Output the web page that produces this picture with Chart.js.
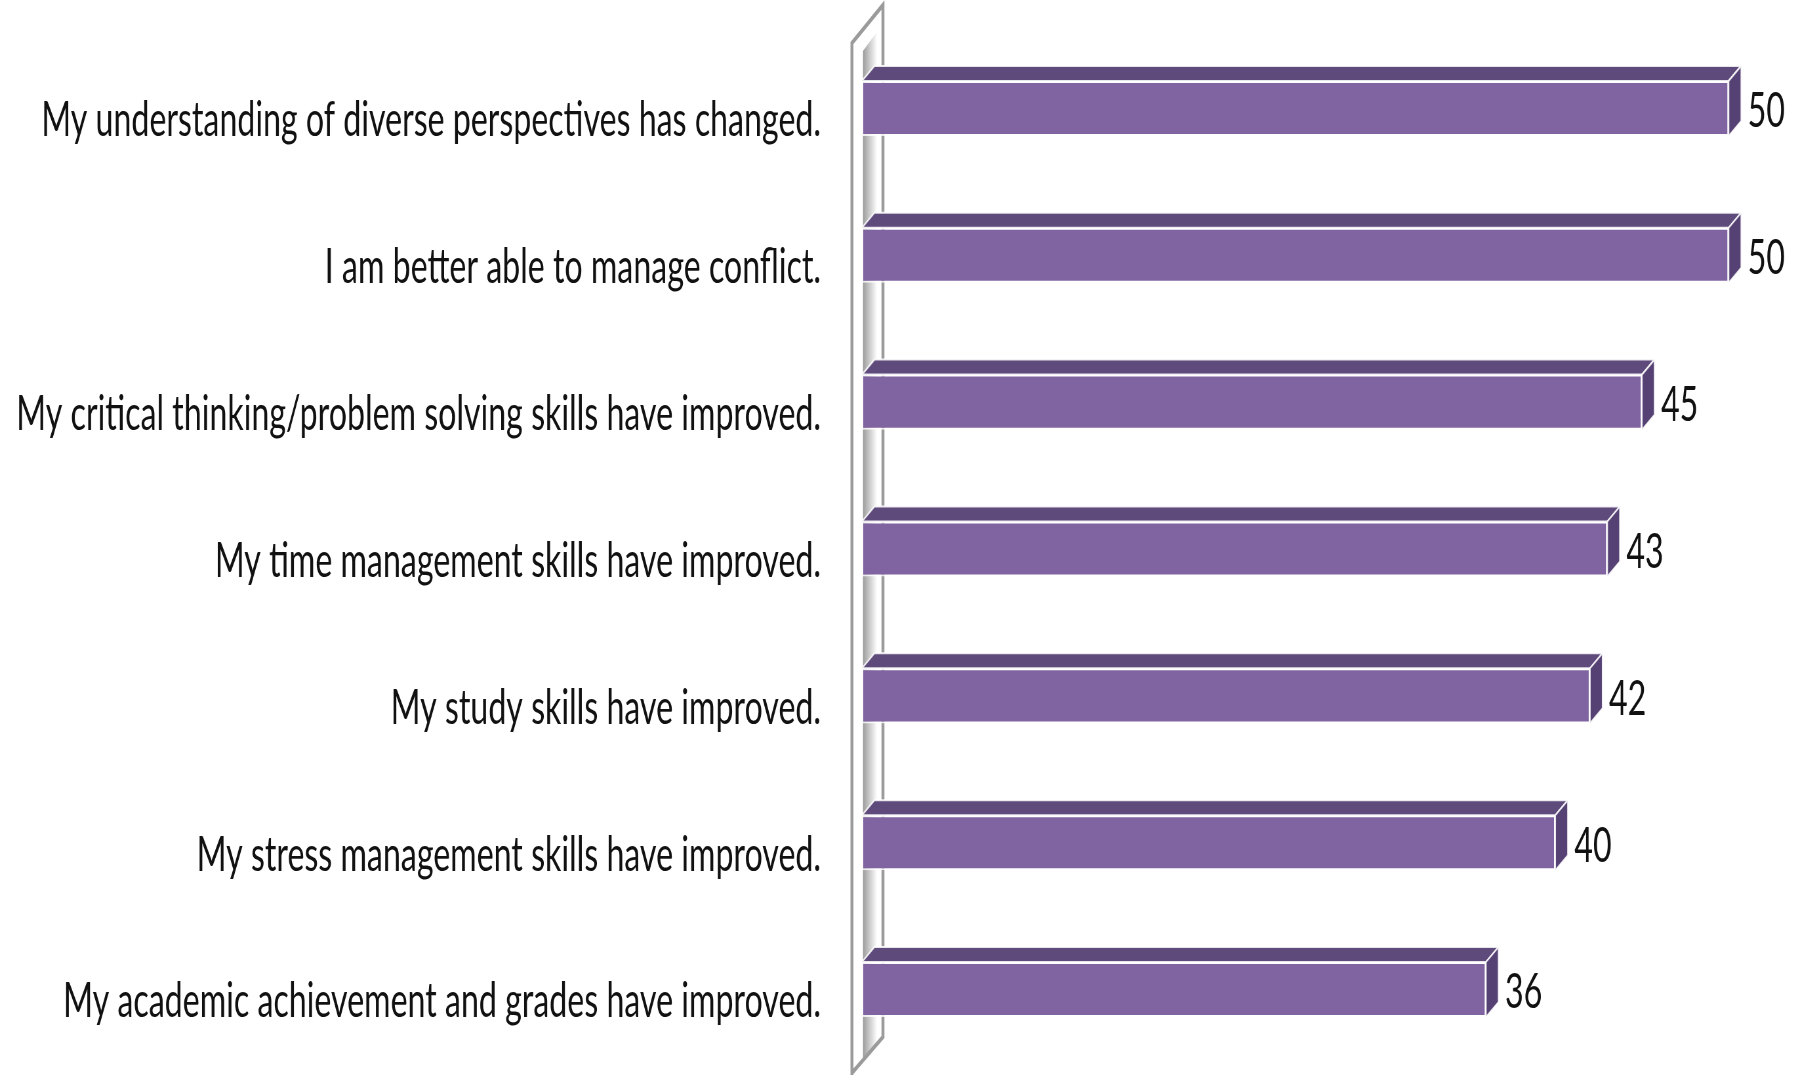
<!DOCTYPE html>
<html>
<head>
<meta charset="utf-8">
<script src="https://cdn.jsdelivr.net/npm/chart.js@4.4.0/dist/chart.umd.min.js"></script>
<style>
  html, body { margin: 0; padding: 0; background: #fff; overflow: hidden; }
  canvas { display: block; }
</style>
</head>
<body>
<canvas id="chart"></canvas>
<script>
const statements = [
  "My understanding of diverse perspectives has changed.",
  "I am better able to manage conflict.",
  "My critical thinking/problem solving skills have improved.",
  "My time management skills have improved.",
  "My study skills have improved.",
  "My stress management skills have improved.",
  "My academic achievement and grades have improved."
];
const responses = [50, 50, 45, 43, 42, 40, 36];
const axisMin = 0;
const axisMax = 54;

// the original picture is squeezed sideways (tall narrow text),
// so draw on a wider canvas and let css squeeze it back
const squeeze = 0.656;
const pageWidth = 1798;
const pageHeight = 1075;

const canvas = document.getElementById("chart");
canvas.width = Math.round(pageWidth / squeeze);
canvas.height = pageHeight;
canvas.style.width = pageWidth + "px";
canvas.style.height = pageHeight + "px";

const toX = (px) => px / squeeze; // screen px -> canvas px (horizontal only)
const font = { family: "Lato", size: 49 };
const depthX = toX(12.5);
const depthY = 15;

const wallPlugin = {
  id: "wall",
  beforeDatasetsDraw(chart) {
    const ctx = chart.ctx;
    const { left, top, bottom } = chart.chartArea;
    const outer = left - toX(10);
    const back = left + toX(21);

    ctx.save();
    // shaded inside face of the wall
    const grad = ctx.createLinearGradient(left + toX(1), 0, left + toX(15), 0);
    grad.addColorStop(0, "#9c9c9c");
    grad.addColorStop(1, "#ffffff");
    ctx.fillStyle = grad;
    ctx.beginPath();
    ctx.moveTo(left + toX(1), top + 16);
    ctx.lineTo(left + toX(17), top - 6);
    ctx.lineTo(left + toX(17), bottom - 24);
    ctx.lineTo(left + toX(1), bottom - 2);
    ctx.closePath();
    ctx.fill();

    // outline
    ctx.strokeStyle = "#9b9b9b";
    ctx.lineWidth = 4.5;
    ctx.beginPath();
    ctx.moveTo(outer, pageHeight + 5);
    ctx.lineTo(outer, top + 8);
    ctx.lineTo(back, top - 30);
    ctx.lineTo(back, bottom - 26);
    ctx.lineTo(outer, bottom + 10);
    ctx.stroke();
    ctx.restore();
  }
};

const boxPlugin = {
  id: "boxes",
  afterDatasetsDraw(chart) {
    const ctx = chart.ctx;
    const meta = chart.getDatasetMeta(0);
    ctx.save();
    meta.data.forEach((bar, i) => {
      const p = bar.getProps(["x", "y", "base", "height"], true);
      const y0 = p.y - p.height / 2;
      const y1 = p.y + p.height / 2;

      // top face
      ctx.beginPath();
      ctx.moveTo(p.base, y0);
      ctx.lineTo(p.base + depthX, y0 - depthY);
      ctx.lineTo(p.x + depthX, y0 - depthY);
      ctx.lineTo(p.x, y0);
      ctx.closePath();
      ctx.fillStyle = "#5f4a7c";
      ctx.fill();
      ctx.strokeStyle = "rgba(255,255,255,0.85)";
      ctx.lineWidth = 2;
      ctx.stroke();

      // end face
      ctx.beginPath();
      ctx.moveTo(p.x, y0);
      ctx.lineTo(p.x + depthX, y0 - depthY);
      ctx.lineTo(p.x + depthX, y1 - depthY);
      ctx.lineTo(p.x, y1);
      ctx.closePath();
      ctx.fillStyle = "#564174";
      ctx.fill();
      ctx.stroke();

      // value
      ctx.fillStyle = "#111";
      ctx.font = font.size + "px " + font.family;
      ctx.textAlign = "left";
      ctx.textBaseline = "middle";
      ctx.fillText(String(responses[i]), p.x + toX(19), p.y + 3);
    });
    ctx.restore();
  }
};

const chart = new Chart(canvas, {
  type: "bar",
  data: {
    labels: statements,
    datasets: [
      {
        data: responses,
        backgroundColor: "#8064a2",
        borderColor: "rgba(255,255,255,0.8)",
        borderWidth: 2,
        borderSkipped: false,
        categoryPercentage: 1,
        barPercentage: 0.375
      }
    ]
  },
  options: {
    indexAxis: "y",
    responsive: false,
    devicePixelRatio: 1,
    animation: false,
    events: [],
    layout: { padding: { top: 35, bottom: 12, left: 0, right: 0 } },
    plugins: {
      legend: { display: false },
      tooltip: { enabled: false }
    },
    scales: {
      x: { display: false, min: axisMin, max: axisMax },
      y: {
        grid: { display: false, drawTicks: false },
        border: { display: false },
        ticks: {
          color: "#111",
          font: font,
          padding: toX(41),
          labelOffset: 12,
          autoSkip: false
        },
        afterFit(scale) {
          scale.width = toX(862);
          // big labels would otherwise push the plot area in from top and bottom
          scale.paddingTop = 0;
          scale.paddingBottom = 0;
        }
      }
    }
  },
  plugins: [wallPlugin, boxPlugin]
});
</script>
</body>
</html>
